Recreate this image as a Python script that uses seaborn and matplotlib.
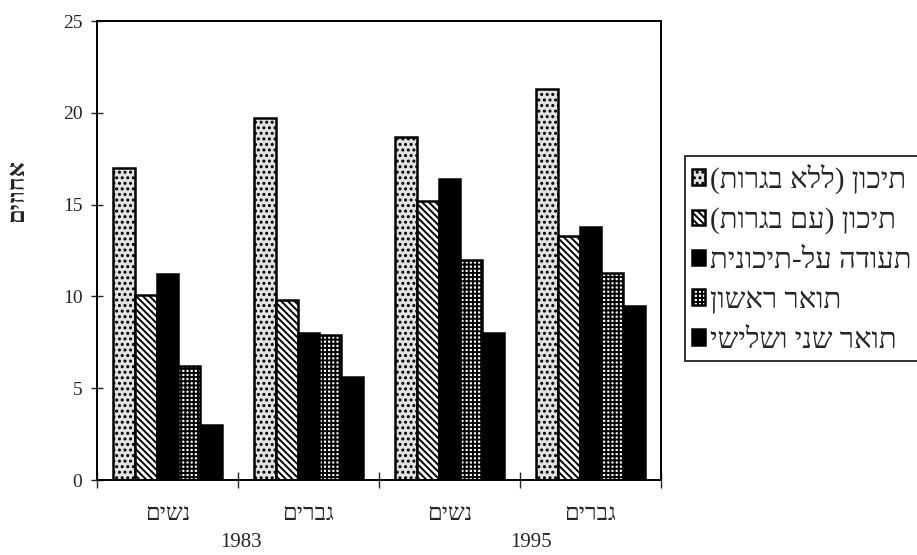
import pandas as pd
import seaborn as sns
import matplotlib.pyplot as plt
import matplotlib.transforms as mtransforms


def vis(s):
	# matplotlib has no bidi: reverse hebrew to visual order, mirror brackets
	swap = {'(': ')', ')': '('}
	return ''.join(swap.get(c, c) for c in reversed(s))


groups = ['w83', 'm83', 'w95', 'm95']
group_labels = ['נשים', 'גברים', 'נשים', 'גברים']
years = ['1983', '1995']
series = ['תיכון (ללא בגרות)', 'תיכון (עם בגרות)', 'תעודה על-תיכונית', 'תואר ראשון', 'תואר שני ושלישי']

no_bagrut = [17.0, 19.7, 18.7, 21.3]
with_bagrut = [10.1, 9.8, 15.2, 13.3]
post_secondary = [11.2, 8.0, 16.4, 13.8]
first_degree = [6.2, 7.9, 12.0, 11.3]
higher_degree = [3.0, 5.6, 8.0, 9.5]

values = [no_bagrut, with_bagrut, post_secondary, first_degree, higher_degree]

rows = []
for s, vals in zip(series, values):
	for g, v in zip(groups, vals):
		rows.append({'group': g, 'series': s, 'value': v})
df = pd.DataFrame(rows)

sns.set_style('white')
plt.rcParams['font.family'] = ['Liberation Serif', 'DejaVu Sans']
plt.rcParams['hatch.linewidth'] = 1.4

face = ['#e2e2e2', 'white', 'black', 'white', 'black']
hatches = ['...', '\\\\\\\\\\', '', '++++', '']

fig = plt.figure(figsize=(9.17, 5.55), dpi=100)
ax = fig.add_axes([0.1058, 0.135, 0.615, 0.827])

sns.barplot(data=df, x='group', y='value', hue='series', order=groups, hue_order=series,
	palette=dict(zip(series, face)), saturation=1, width=0.77, edgecolor='black',
	linewidth=1.8, legend=False, ax=ax)

for cont, h in zip(ax.containers, hatches):
	for bar in cont:
		bar.set_hatch(h)

ax.set_ylim(0, 25)
ax.set_xlim(-0.5, 3.5)
ax.set_yticks([0, 5, 10, 15, 20, 25])
ax.tick_params(axis='y', direction='inout', length=9, width=1, labelsize=14, left=True, pad=6)
ax.set_xticks(range(4))
ax.set_xticklabels([vis(t) for t in group_labels], fontsize=17)
ax.tick_params(axis='x', which='major', length=0, pad=17)
ax.set_xticks([-0.5, 0.5, 1.5, 2.5, 3.5], minor=True)
ax.tick_params(axis='x', which='minor', direction='inout', length=12, width=1, bottom=True)
ax.set_xlabel('')
ax.set_ylabel(vis('אחוזים'), fontsize=17, fontweight='bold')
ax.yaxis.set_label_coords(-0.122, 0.63)
for sp in ax.spines.values():
	sp.set_visible(True)
	sp.set_color('black')
	sp.set_linewidth(1.4)

trans = mtransforms.blended_transform_factory(ax.transData, ax.transAxes)
ax.text(0.52, -0.137, years[0], transform=trans, ha='center', va='center', fontsize=15)
ax.text(2.58, -0.137, years[1], transform=trans, ha='center', va='center', fontsize=15)

handles = [c.patches[0] for c in ax.containers]
leg = fig.legend(handles, [vis(s) for s in series], loc='upper left',
	bbox_to_anchor=(0.747, 0.719), fontsize=21, frameon=True, fancybox=False,
	edgecolor='black', handlelength=0.45, handleheight=0.45, handletextpad=0.15,
	labelspacing=0.47, borderpad=0.25, borderaxespad=0)
leg.get_frame().set_linewidth(1.4)

plt.savefig('out.png', dpi=100)
